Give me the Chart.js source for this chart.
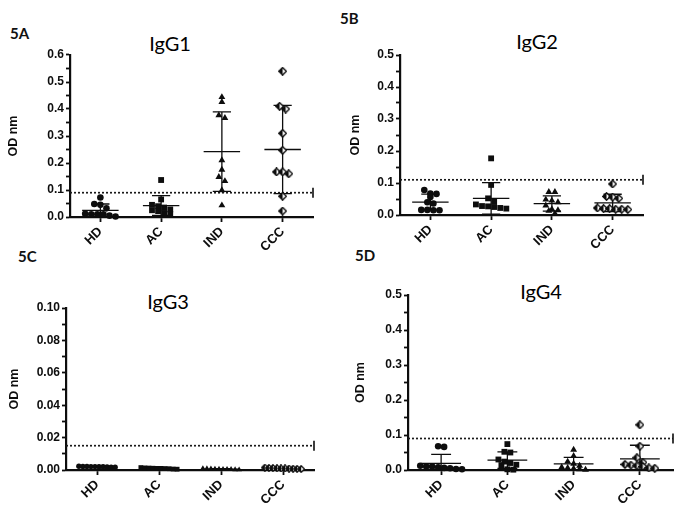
<!DOCTYPE html>
<html>
<head>
<meta charset="utf-8">
<script src="https://cdn.jsdelivr.net/npm/chart.js@4.4.1/dist/chart.umd.min.js"></script>
<style>
  body { margin: 0; background: #fff; }
  #wrap { position: relative; width: 685px; height: 517px; overflow: hidden; }
  #wrap canvas { position: absolute; left: 0; top: 0; }
  .lbl { position: absolute; font-family: Lato, "Liberation Sans", sans-serif; font-weight: bold; font-size: 15px; line-height: 1; color: #111; }
  .ttl { position: absolute; font-family: Lato, "Open Sans", sans-serif; font-size: 20px; line-height: 1; color: #000; transform: translateX(-50%); white-space: nowrap; }
</style>
</head>
<body>
<div id="wrap">
  <div class="lbl" style="left:10px;top:26px">5A</div>
  <div class="lbl" style="left:340px;top:11px">5B</div>
  <div class="lbl" style="left:18px;top:249px">5C</div>
  <div class="lbl" style="left:355px;top:248px">5D</div>
  <div class="ttl" style="left:170px;top:33px">IgG1</div>
  <div class="ttl" style="left:537px;top:31px">IgG2</div>
  <div class="ttl" style="left:168px;top:291px">IgG3</div>
  <div class="ttl" style="left:541px;top:281px">IgG4</div>
  <canvas id="chartA" width="685" height="517"></canvas>
  <canvas id="chartB" width="685" height="517"></canvas>
  <canvas id="chartC" width="685" height="517"></canvas>
  <canvas id="chartD" width="685" height="517"></canvas>
</div>
<script>
const groups = ["HD", "AC", "IND", "CCC"];

// IgG1 (5A)
const igg1HD = [0.072, 0.048, 0.045, 0.032, 0.012, 0.010, 0.010, 0.010, 0.005, 0.002];
const igg1AC = [0.137, 0.065, 0.045, 0.040, 0.035, 0.028, 0.025, 0.022, 0.015, 0.012];
const igg1IND = [0.444, 0.426, 0.377, 0.367, 0.210, 0.175, 0.148, 0.133, 0.099, 0.043];
const igg1CCC = [0.540, 0.410, 0.400, 0.310, 0.247, 0.167, 0.167, 0.160, 0.077, 0.022];
const igg1Cutoff = 0.09;
const igg1Ticks = ["0.0", "0.1", "0.2", "0.3", "0.4", "0.5", "0.6"];

// IgG2 (5B)
const igg2HD = [0.078, 0.067, 0.066, 0.056, 0.040, 0.036, 0.016, 0.016, 0.015, 0.015];
const igg2AC = [0.177, 0.094, 0.052, 0.042, 0.033, 0.028, 0.027, 0.025, 0.022, 0.020];
const igg2IND = [0.072, 0.072, 0.048, 0.045, 0.040, 0.030, 0.018, 0.015, 0.013, 0.005];
const igg2CCC = [0.097, 0.058, 0.056, 0.052, 0.022, 0.020, 0.020, 0.018, 0.018, 0.017];
const igg2Cutoff = 0.11;
const igg2Ticks = ["0.0", "0.1", "0.2", "0.3", "0.4", "0.5"];

// IgG3 (5C)
const igg3HD = [0.0022, 0.0020, 0.0021, 0.0018, 0.0023, 0.0019, 0.0020, 0.0022, 0.0017, 0.0021];
const igg3AC = [0.0010, 0.0012, 0.0008, 0.0015, 0.0005, 0.0011, 0.0009, 0.0013, 0.0006, 0.0010];
const igg3IND = [0.0005, 0.0008, 0.0003, 0.0010, 0.0006, 0.0004, 0.0007, 0.0002, 0.0009, 0.0005];
const igg3CCC = [0.0012, 0.0015, 0.0008, 0.0010, 0.0006, 0.0013, 0.0009, 0.0011, 0.0007, 0.0010];
const igg3Cutoff = 0.015;
const igg3Ticks = ["0.00", "0.02", "0.04", "0.06", "0.08", "0.10"];

// IgG4 (5D)
const igg4HD = [0.068, 0.066, 0.012, 0.010, 0.010, 0.008, 0.006, 0.005, 0.003, 0.002];
const igg4AC = [0.074, 0.052, 0.050, 0.030, 0.024, 0.020, 0.015, 0.014, 0.002, 0.001];
const igg4IND = [0.058, 0.040, 0.024, 0.018, 0.012, 0.008, 0.006, 0.004, 0.002, 0.001];
const igg4CCC = [0.129, 0.068, 0.035, 0.022, 0.016, 0.014, 0.012, 0.010, 0.006, 0.005];
const igg4Cutoff = 0.09;
const igg4Ticks = ["0.0", "0.1", "0.2", "0.3", "0.4", "0.5"];

const W = 685, H = 517;
const X_H = 50;
const INK = "#0d0d0d";

function meanSd(vals) {
	const m = vals.reduce((a, b) => a + b, 0) / vals.length;
	const v = vals.reduce((a, b) => a + (b - m) * (b - m), 0) / (vals.length - 1);
	return [m, Math.sqrt(v)];
}

// rows of close values are spread symmetrically round the group centre
function swarm(vals, cat, step, thr) {
	const sorted = vals.slice().sort((a, b) => b - a);
	const out = [];
	let row = [];
	const flush = () => {
		row.forEach((y, k) => out.push({ x: cat + (k - (row.length - 1) / 2) * step, y: y }));
		row = [];
	};
	sorted.forEach(y => {
		if (row.length && row[0] - y > thr) flush();
		row.push(y);
	});
	flush();
	return out;
}

function diamondImg(r) {
	const n = Math.round(r * 2.8);
	const c = document.createElement("canvas");
	c.width = n; c.height = n;
	const g = c.getContext("2d");
	const h = n / 2;
	const path = () => {
		g.beginPath();
		g.moveTo(h, 0.7); g.lineTo(n - 0.7, h); g.lineTo(h, n - 0.7); g.lineTo(0.7, h); g.closePath();
	};
	path(); g.fillStyle = "#fff"; g.fill();
	g.beginPath();
	g.moveTo(h, 0.7); g.lineTo(h, n - 0.7); g.lineTo(0.7, h); g.closePath();
	g.fillStyle = INK; g.fill();
	path(); g.strokeStyle = INK; g.lineWidth = 1.3; g.stroke();
	return c;
}

function buildPanel(id, box, yLabels, minor, series, cutoff, jitter, pointR) {
	const yMax = parseFloat(yLabels[yLabels.length - 1]);
	const major = parseFloat(yLabels[1]) - parseFloat(yLabels[0]);
	const decimals = yLabels[0].split(".")[1].length;
	const styles = ["circle", "rect", "triangle", diamondImg(pointR)];
	const sizes = [pointR, pointR * 1.25, pointR * 1.2, pointR];
	const padLeft = box.titleX - 11;
	const datasets = [];
	const bars = [];

	series.forEach((vals, i) => {
		const cat = i + 1;
		datasets.push({
			type: "scatter",
			data: swarm(vals, cat, jitter, yMax * 0.03),
			pointStyle: styles[i],
			pointRadius: sizes[i],
			backgroundColor: INK,
			borderColor: INK,
			borderWidth: 0,
			clip: false
		});
		const [m, sd] = meanSd(vals);
		bars.push(
			{ x: cat - 0.3, y: m }, { x: cat + 0.3, y: m }, { x: cat, y: null },
			{ x: cat, y: m - sd }, { x: cat, y: m + sd }, { x: cat, y: null },
			{ x: cat - 0.15, y: m + sd }, { x: cat + 0.15, y: m + sd }, { x: cat, y: null },
			{ x: cat - 0.15, y: m - sd }, { x: cat + 0.15, y: m - sd }, { x: cat, y: null }
		);
	});

	datasets.push({
		type: "line",
		showLine: true,
		data: bars,
		borderColor: INK,
		borderWidth: 1.3,
		pointRadius: 0,
		spanGaps: false
	});

	datasets.push({
		type: "line",
		showLine: true,
		data: [{ x: 0.5, y: cutoff }, { x: 4.5, y: cutoff }],
		borderColor: "#1a1a1a",
		borderWidth: 1.7,
		borderDash: [2, 2],
		pointStyle: "line",
		pointRotation: 90,
		pointRadius: c => c.dataIndex === 1 ? 5 : 0,
		pointBorderWidth: 1.7,
		pointBorderColor: "#1a1a1a",
		clip: false
	});

	new Chart(document.getElementById(id), {
		type: "scatter",
		data: { datasets: datasets },
		options: {
			responsive: false,
			animation: false,
			devicePixelRatio: 1,
			events: [],
			layout: {
				padding: {
					left: padLeft,
					top: box.top,
					right: W - box.right,
					bottom: H - box.bottom - X_H
				}
			},
			plugins: {
				legend: { display: false },
				tooltip: { enabled: false }
			},
			scales: {
				x: {
					type: "linear",
					min: 0.5,
					max: 4.5,
					afterBuildTicks: s => { s.ticks = groups.map((g, i) => ({ value: i + 1 })); },
					afterFit: s => { s.height = X_H; s.paddingLeft = 0; s.paddingRight = 0; },
					ticks: {
						callback: v => groups[v - 1],
						minRotation: 45,
						maxRotation: 45,
						autoSkip: false,
						padding: 2,
						color: INK,
						font: { family: "Liberation Sans", weight: "bold", size: 13 }
					},
					grid: { drawOnChartArea: false, drawTicks: true, tickLength: 5, tickWidth: 1.8, tickColor: INK },
					border: { color: INK, width: 2.2 }
				},
				y: {
					type: "linear",
					min: 0,
					max: yMax,
					afterBuildTicks: s => {
						const n = Math.round(yMax / minor);
						const t = [];
						for (let k = 0; k <= n; k++) t.push({ value: k * minor });
						s.ticks = t;
					},
					afterFit: s => { s.width = box.left - padLeft; s.paddingTop = 0; s.paddingBottom = 0; },
					ticks: {
						autoSkip: false,
						padding: 2,
						color: INK,
						font: { family: "Liberation Sans", weight: "bold", size: 12 },
						callback: v => {
							const r = v / major;
							return Math.abs(r - Math.round(r)) < 1e-6 ? v.toFixed(decimals) : "";
						}
					},
					grid: { drawOnChartArea: false, drawTicks: true, tickLength: 4, tickWidth: 1.8, tickColor: INK },
					border: { color: INK, width: 2.2 },
					title: {
						display: true,
						text: "OD nm",
						color: INK,
						padding: { top: 4, bottom: 4 },
						font: { family: "Liberation Sans", weight: "bold", size: 12.5 }
					}
				}
			}
		}
	});
}

buildPanel("chartA", { left: 70, right: 313, top: 55, bottom: 217, titleX: 13 },
	igg1Ticks, 0.05, [igg1HD, igg1AC, igg1IND, igg1CCC], igg1Cutoff, 0.1, 3.3);
buildPanel("chartB", { left: 400, right: 643, top: 55, bottom: 215, titleX: 355 },
	igg2Ticks, 0.05, [igg2HD, igg2AC, igg2IND, igg2CCC], igg2Cutoff, 0.1, 3.3);
buildPanel("chartC", { left: 66, right: 314, top: 308, bottom: 470, titleX: 14.5 },
	igg3Ticks, 0.01, [igg3HD, igg3AC, igg3IND, igg3CCC], igg3Cutoff, 0.065, 2.7);
buildPanel("chartD", { left: 408, right: 673, top: 295, bottom: 470, titleX: 360 },
	igg4Ticks, 0.05, [igg4HD, igg4AC, igg4IND, igg4CCC], igg4Cutoff, 0.09, 3.3);
</script>
</body>
</html>
